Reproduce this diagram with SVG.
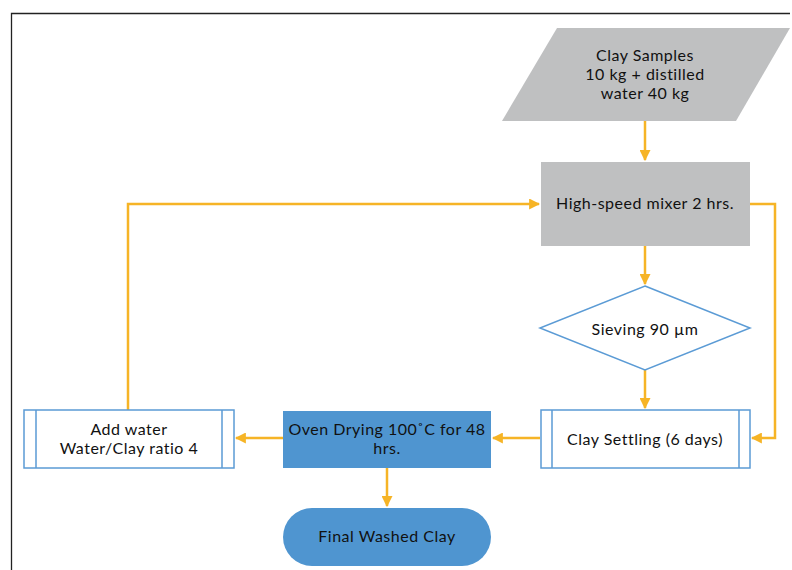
<svg xmlns="http://www.w3.org/2000/svg" width="792" height="570" viewBox="0 0 792 570">
<defs>
<style>
.t{font-family:Lato,"Open Sans","Liberation Sans",sans-serif;font-size:16px;letter-spacing:0.5px;fill:#111;text-anchor:middle}
.c{fill:none;stroke:#f6b426;stroke-width:2.5}
.b{fill:#fff;stroke:#5b9bd5;stroke-width:1.5}
</style>
<marker id="a" viewBox="0 0 10 10" refX="9" refY="5" markerWidth="4.4" markerHeight="4.4" orient="auto" markerUnits="strokeWidth">
<path d="M0,0 L10,5 L0,10 z" fill="#f6b426"/>
</marker>
</defs>
<rect width="792" height="570" fill="#fff"/>
<path d="M11.5,570 V13.5 H790" fill="none" stroke="#222" stroke-width="1.3"/>
<g id="connectors">
<path class="c" d="M645,121 V160" marker-end="url(#a)"/>
<path class="c" d="M645,246 V284" marker-end="url(#a)"/>
<path class="c" d="M645,370 V408" marker-end="url(#a)"/>
<path class="c" d="M750,204 H775 V438 H752" marker-end="url(#a)"/>
<path class="c" d="M540,438 H493" marker-end="url(#a)"/>
<path class="c" d="M283,438 H236" marker-end="url(#a)"/>
<path class="c" d="M128,410 V204 H539" marker-end="url(#a)"/>
<path class="c" d="M387,468 V506" marker-end="url(#a)"/>
</g>
<g id="clay-samples">
<polygon points="557,28 790,28 736,121 502,121" fill="#bfc0c1"/>
<text class="t" x="645" y="61">Clay Samples</text>
<text class="t" x="645" y="80">10 kg + distilled</text>
<text class="t" x="645" y="99">water 40 kg</text>
</g>
<g id="mixer">
<rect x="541" y="162" width="209" height="84" fill="#bfc0c1"/>
<text class="t" x="645" y="209">High-speed mixer 2 hrs.</text>
</g>
<g id="sieving">
<polygon class="b" points="645,286 750,328 645,370 540,328"/>
<text class="t" x="645" y="335">Sieving 90 µm</text>
</g>
<g id="settling">
<rect class="b" x="541" y="410" width="209" height="58"/>
<path d="M552,410 V468 M739,410 V468" stroke="#5b9bd5" stroke-width="1.5"/>
<text class="t" x="645" y="445">Clay Settling (6 days)</text>
</g>
<g id="oven">
<rect x="283" y="411" width="208" height="57" fill="#4f95d0"/>
<text class="t" x="387" y="435">Oven Drying 100˚C for 48</text>
<text class="t" x="387" y="454">hrs.</text>
</g>
<g id="add-water">
<rect class="b" x="24" y="410" width="210" height="58"/>
<path d="M36,410 V468 M222,410 V468" stroke="#5b9bd5" stroke-width="1.5"/>
<text class="t" x="129" y="435">Add water</text>
<text class="t" x="129" y="454">Water/Clay ratio 4</text>
</g>
<g id="final">
<rect x="283" y="508" width="208" height="58" rx="29" fill="#4f95d0"/>
<text class="t" x="387" y="542">Final Washed Clay</text>
</g>
</svg>
